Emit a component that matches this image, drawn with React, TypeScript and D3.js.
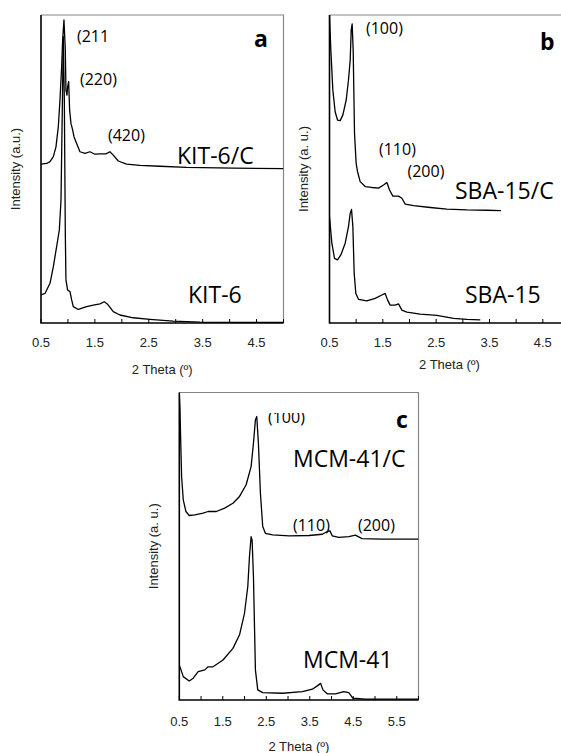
import { useMemo } from "react"
import * as d3 from "d3"

// XRD patterns: [2 theta, intensity (a.u., 0-100 of panel height)]
const kit6C: [number, number][] = [
  [0.5, 51.6], [0.605, 51.8], [0.667, 52.4], [0.729, 54.0], [0.778, 57.2], [0.821, 63.7],
  [0.852, 72.4], [0.883, 83.2], [0.902, 91.9], [0.926, 98.4], [0.951, 88.6], [0.963, 75.6],
  [0.982, 74.0], [0.994, 76.7], [1.013, 78.4], [1.031, 69.2], [1.056, 64.8], [1.087, 62.7],
  [1.112, 60.5], [1.161, 58.3], [1.223, 55.6], [1.316, 55.1], [1.408, 55.6], [1.501, 54.8],
  [1.594, 54.9], [1.705, 54.9], [1.779, 55.6], [1.841, 54.5], [1.934, 52.6], [2.088, 51.6],
  [2.335, 51.2], [2.706, 50.9], [3.2, 50.5], [4.066, 50.3], [5.0, 50.1],
]

const kit6: [number, number][] = [
  [0.5, 9.1], [0.574, 9.6], [0.667, 12.9], [0.729, 18.3], [0.79, 24.8], [0.84, 30.2],
  [0.871, 39.9], [0.889, 61.6], [0.902, 77.8], [0.914, 93.0], [0.933, 72.4], [0.951, 29.2],
  [0.963, 14.0], [0.994, 10.7], [1.038, 10.2], [1.069, 7.5], [1.099, 5.3], [1.192, 4.4],
  [1.347, 5.3], [1.47, 5.8], [1.594, 6.2], [1.674, 6.9], [1.73, 6.2], [1.841, 3.7],
  [1.965, 2.6], [2.212, 1.7], [2.521, 1.2], [2.953, 0.6], [3.448, 0.3], [4.07, 0.2], [5.0, 0.2],
]

const sba15C: [number, number][] = [
  [0.5, 100], [0.525, 88.6], [0.563, 75.6], [0.606, 68.6], [0.65, 65.9], [0.7, 65.7],
  [0.75, 67.5], [0.813, 72.4], [0.856, 78.9], [0.888, 85.4], [0.907, 95.1], [0.925, 97.1],
  [0.944, 88.6], [0.969, 61.6], [1.0, 51.8], [1.025, 49.2], [1.075, 45.9], [1.169, 44.3],
  [1.294, 44.0], [1.419, 43.8], [1.513, 44.8], [1.576, 45.6], [1.626, 43.2], [1.688, 41.2],
  [1.794, 41.2], [1.857, 40.5], [1.92, 38.6], [2.076, 38.1], [2.389, 37.5], [2.701, 37.0],
  [3.077, 36.7], [3.452, 36.6], [3.715, 36.5],
]

const sba15: [number, number][] = [
  [0.5, 34.5], [0.544, 25.9], [0.594, 21.0], [0.65, 20.5], [0.713, 22.1], [0.794, 25.9],
  [0.856, 31.3], [0.888, 35.6], [0.913, 36.9], [0.938, 31.3], [0.963, 16.1], [0.994, 9.6],
  [1.044, 7.7], [1.2, 7.2], [1.357, 8.0], [1.482, 9.1], [1.544, 9.6], [1.588, 7.5],
  [1.638, 5.8], [1.732, 5.8], [1.794, 6.2], [1.857, 4.2], [1.951, 3.5], [2.201, 2.9],
  [2.514, 2.5], [2.826, 1.5], [3.077, 1.2], [3.327, 1.0],
]

const mcm41C: [number, number][] = [
  [0.5, 100], [0.515, 95], [0.53, 85.7], [0.553, 72.7], [0.591, 65.1], [0.652, 61.3],
  [0.728, 60.0], [0.858, 60.2], [1.048, 60.8], [1.162, 61.3], [1.352, 61.3], [1.543, 62.4],
  [1.733, 64.0], [1.885, 66.2], [2.037, 70.0], [2.151, 75.9], [2.205, 83.5], [2.25, 91.1],
  [2.281, 92.2], [2.319, 83.5], [2.365, 67.3], [2.418, 56.4], [2.479, 54.2], [2.646, 53.7],
  [3.027, 53.4], [3.483, 53.5], [3.788, 53.9], [3.902, 54.8], [3.963, 55.0], [4.016, 53.4],
  [4.168, 52.9], [4.397, 53.1], [4.549, 53.6], [4.701, 52.5], [5.158, 52.3], [6.0, 52.3],
]

const mcm41: [number, number][] = [
  [0.5, 11.4], [0.591, 7.6], [0.728, 6.2], [0.82, 7.1], [0.934, 9.2], [1.086, 9.8],
  [1.162, 10.8], [1.276, 10.8], [1.505, 13.0], [1.733, 16.8], [1.885, 21.2], [1.999, 28.2],
  [2.075, 36.9], [2.113, 46.6], [2.151, 53.1], [2.174, 52.0], [2.205, 40.1], [2.25, 9.8],
  [2.304, 3.3], [2.418, 2.4], [2.875, 2.2], [3.331, 2.7], [3.559, 3.5], [3.674, 4.6],
  [3.75, 5.4], [3.803, 3.3], [3.902, 2.0], [4.092, 2.0], [4.282, 2.7], [4.397, 2.4],
  [4.488, 0.6], [4.777, 0.3], [6.0, 0.3],
]

const tickLabelsAB = [0.5, 1.5, 2.5, 3.5, 4.5]
const tickLabelsC = [0.5, 1.5, 2.5, 3.5, 4.5, 5.5]

type Label = { text: string; x: number; y: number; kind: "peak" | "sample" | "panel"; clipTop?: number }

type PanelProps = {
  id: string
  left: number
  right: number
  top: number
  bottom: number
  xMax: number
  labels: number[]
  series: [number, number][][]
  tickBaseline: number
  titleBaseline: number
  yTitle: string
  yTitleX: number
  notes: Label[]
}

const Panel = ({ id, left, right, top, bottom, xMax, labels, series, tickBaseline, titleBaseline, yTitle, yTitleX, notes }: PanelProps) => {
  const x = d3.scaleLinear().domain([0.5, xMax]).range([left, right])
  const y = d3.scaleLinear().domain([0, 100]).range([bottom, top])
  const line = d3.line<[number, number]>().x((d) => x(d[0])).y((d) => y(d[1])).curve(d3.curveLinear)

  const minor = d3.range(0.5, xMax + 0.001, 0.5)

  return (
    <g>
      <defs>
        <clipPath id={`clip-${id}`}>
          <rect x={left} y={top} width={right - left} height={bottom - top} />
        </clipPath>
      </defs>
      {/* gray top / right frame */}
      <path d={`M${left},${top}H${right}V${bottom}`} fill="none" stroke="#858585" strokeWidth={1.2} />

      {series.map((s, i) => (
        <path key={i} d={line(s) ?? ""} fill="none" stroke="#000" strokeWidth={1.3} strokeLinejoin="round" clipPath={`url(#clip-${id})`} />
      ))}

      {/* axes */}
      <path d={`M${left},${top}V${bottom}H${right}`} fill="none" stroke="#000" strokeWidth={1.6} />
      {minor.map((t) => (
        <line key={t} x1={x(t)} x2={x(t)} y1={bottom} y2={bottom - 4} stroke="#000" strokeWidth={1} />
      ))}
      {labels.map((t) => (
        <text key={t} x={x(t)} y={tickBaseline} textAnchor="middle" fontFamily="'Liberation Sans', Arial, sans-serif" fontSize={13} fill="#222">
          {t.toFixed(1)}
        </text>
      ))}
      <text x={(left + Math.min(right, 283 + left)) / 2} y={titleBaseline} textAnchor="middle" fontFamily="'Liberation Sans', Arial, sans-serif" fontSize={13} fill="#222">
        2 Theta (º)
      </text>
      <text transform={`translate(${yTitleX},${(top + bottom) / 2}) rotate(-90)`} textAnchor="middle" fontFamily="'Liberation Sans', Arial, sans-serif" fontSize={13} fill="#222">
        {yTitle}
      </text>

      {notes.map((n, i) => {
        const common = { x: n.x, y: n.y, fill: "#000", fontFamily: "'Open Sans', sans-serif" }
        if (n.kind === "panel")
          return <text key={i} {...common} fontSize={23} fontWeight="bold">{n.text}</text>
        if (n.kind === "sample")
          return <text key={i} {...common} fontSize={23}>{n.text}</text>
        if (n.clipTop !== undefined)
          return (
            <g key={i}>
              <defs>
                <clipPath id={`clip-${id}-n${i}`}>
                  <rect x={n.x - 5} y={n.clipTop} width={80} height={40} />
                </clipPath>
              </defs>
              <text {...common} fontSize={16} clipPath={`url(#clip-${id}-n${i})`}>{n.text}</text>
            </g>
          )
        return <text key={i} {...common} fontSize={16}>{n.text}</text>
      })}
    </g>
  )
}

const App = () => {
  const panels = useMemo<PanelProps[]>(
    () => [
      {
        id: "a", left: 41, right: 283.5, top: 15, bottom: 323, xMax: 5.0, labels: tickLabelsAB,
        series: [kit6C, kit6], tickBaseline: 347, titleBaseline: 374,
        yTitle: "Intensity (a.u.)", yTitleX: 20,
        notes: [
          { text: "(211", x: 77, y: 42, kind: "peak" },
          { text: "(220)", x: 80, y: 85, kind: "peak" },
          { text: "(420)", x: 108, y: 141, kind: "peak" },
          { text: "KIT-6/C", x: 177, y: 164, kind: "sample" },
          { text: "KIT-6", x: 188, y: 303, kind: "sample" },
          { text: "a", x: 254, y: 47, kind: "panel" },
        ],
      },
      {
        id: "b", left: 329.5, right: 569.5, top: 15, bottom: 323, xMax: 5.0, labels: tickLabelsAB,
        series: [sba15C, sba15], tickBaseline: 347, titleBaseline: 369,
        yTitle: "Intensity (a. u.)", yTitleX: 308,
        notes: [
          { text: "(100)", x: 366, y: 34, kind: "peak" },
          { text: "(110)", x: 379, y: 155, kind: "peak" },
          { text: "(200)", x: 407.5, y: 177, kind: "peak" },
          { text: "SBA-15/C", x: 455, y: 199, kind: "sample" },
          { text: "SBA-15", x: 465, y: 303, kind: "sample" },
          { text: "b", x: 540, y: 50, kind: "panel" },
        ],
      },
      {
        id: "c", left: 179.3, right: 418.5, top: 392.5, bottom: 700, xMax: 6.0, labels: tickLabelsC,
        series: [mcm41C, mcm41], tickBaseline: 726, titleBaseline: 751,
        yTitle: "Intensity (a. u.)", yTitleX: 158,
        notes: [
          { text: "(100)", x: 268, y: 423, kind: "peak", clipTop: 413 },
          { text: "MCM-41/C", x: 293, y: 467, kind: "sample" },
          { text: "(110)", x: 293, y: 531, kind: "peak" },
          { text: "(200)", x: 358, y: 531, kind: "peak" },
          { text: "MCM-41", x: 303, y: 668, kind: "sample" },
          { text: "c", x: 396, y: 428, kind: "panel" },
        ],
      },
    ],
    []
  )

  return (
    <svg width={561} height={753} style={{ position: "absolute", left: 0, top: 0, background: "#fff" }}>
      <rect width={561} height={753} fill="#fff" />
      {panels.map((p) => (
        <Panel key={p.id} {...p} />
      ))}
    </svg>
  )
}

export default App
